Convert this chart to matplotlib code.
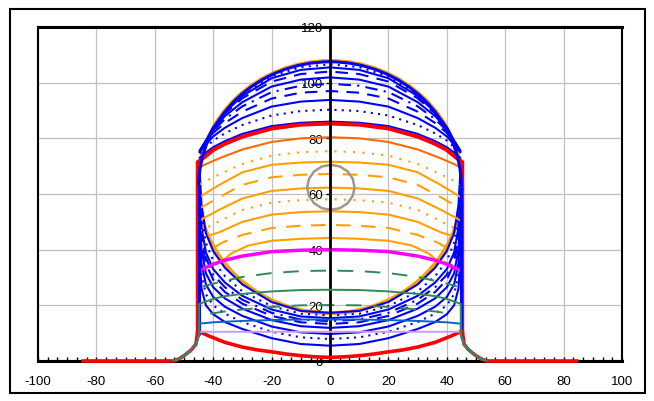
import matplotlib
matplotlib.use("Agg")
import matplotlib.pyplot as plt
import numpy as np
from matplotlib.patches import Arc, Circle, CirclePolygon, Rectangle
from matplotlib.ticker import MultipleLocator

plt.rcParams['font.family'] = ['Liberation Sans', 'DejaVu Sans']
plt.rcParams['axes.unicode_minus'] = False

# all profiles are symmetric about x = 0: only the right half is stored
# crown: semicircle r=45 centred on the axis, vertical walls at x=45
crown_y = 62.5
crown_r = 45.0
wall_x = 45.0
wall_bottom = 9.5

# blue contours in the crown (between red line and crown)
top_x = [0, 10, 20, 30, 36, 40, 43, 44.6]
top_levels = [
    [86.0, 85.6, 84.4, 81.6, 79.0, 76.8, 74.5, 73.0],
    [90.3, 89.8, 88.2, 84.8, 81.8, 79.2, 76.3, 74.5],
    [93.8, 93.2, 91.4, 87.3, 83.8, 80.7, 77.2, 75.0],
    [97.0, 96.4, 94.3, 89.6, 85.5, 82.0, 77.8, 75.3],
    [99.6, 98.9, 96.6, 91.5, 86.9, 82.8, 78.1, 75.5],
    [101.9, 101.1, 98.6, 93.0, 88.0, 83.4, 78.3, 75.6],
    [104.0, 103.1, 100.4, 94.4, 88.9, 83.8, 78.3, 75.6],
    [105.5, 104.6, 101.6, 95.2, 89.4, 84.0, 78.1, 75.3],
    [106.6, 105.6, 102.3, 95.7, 89.6, 83.8, 77.6, 74.8],
]
top_ls = ['-', (0, (1, 2.5)), '-', (0, (6, 4)), (0, (6, 3, 1, 3)), '-', (0, (6, 4)), '-', (0, (1, 2.5))]

# blue bowl contours below the circle
bowl_x = [0, 10, 20, 30, 36, 40, 42.5, 44, 44.6]
bowl_levels = [
    [5.5, 6.1, 8.2, 11.5, 14.0, 16.8, 20.0, 26.0, 36.0],
    [7.9, 8.5, 10.5, 14.0, 17.0, 20.0, 24.0, 31.0, 42.0],
    [9.7, 10.3, 12.4, 16.2, 19.5, 23.0, 27.5, 35.0, 46.0],
    [11.9, 12.5, 14.7, 18.8, 22.5, 26.5, 31.5, 40.0, 51.0],
    [13.3, 13.9, 16.2, 20.6, 24.8, 29.2, 35.0, 44.0, 55.0],
    [14.3, 14.9, 17.3, 22.0, 26.5, 31.0, 37.0, 46.0, 57.0],
    [15.4, 16.0, 18.5, 23.4, 28.2, 33.0, 39.0, 48.0, 59.0],
    [16.4, 17.0, 19.7, 25.0, 30.5, 36.0, 42.5, 52.0, 63.0],
    [17.3, 18.0, 21.2, 27.5, 33.5, 39.5, 46.0, 56.0, 67.0],
]
bowl_ls = ['-', (0, (1, 2.5)), '-', '-', (0, (6, 4)), (0, (6, 3, 1, 3)), '-', (0, (1, 2.5)), '-']

# orange contours inside the circle
orange_x = [
    [0, 10, 20, 30, 38, 43, 44.6],
    [0, 10, 20, 30, 38, 43, 44.6],
    [0, 10, 20, 30, 38, 43, 44.6],
    [0, 10, 20, 30, 38, 43, 44.6],
    [0, 10, 20, 30, 38, 43, 44.6],
    [0, 10, 20, 30, 38, 43, 44.6],
    [0, 10, 20, 30, 38, 41.5],
    [0, 10, 20, 30, 37, 39.5],
    [0, 10, 20, 28, 34, 36.5],
]
orange_levels = [
    [80.4, 80.0, 78.7, 76.0, 72.8, 70.5, 69.5],
    [75.4, 75.0, 73.8, 70.8, 67.0, 64.5, 63.5],
    [71.6, 71.3, 70.5, 67.8, 63.2, 60.0, 59.0],
    [67.2, 66.9, 66.0, 63.3, 58.8, 55.8, 55.0],
    [62.3, 62.0, 61.1, 58.4, 54.3, 51.5, 50.5],
    [58.1, 57.8, 56.9, 54.3, 50.2, 47.5, 46.8],
    [53.8, 53.5, 52.6, 50.0, 46.2, 45.1],
    [48.9, 48.6, 47.8, 45.3, 42.5, 40.9],
    [44.2, 43.9, 43.2, 41.5, 38.5, 36.2],
]
orange_colors = ['#ff6a00'] + ['#ffa000'] * 8
orange_ls = ['-', (0, (1, 3.5)), '-', (0, (7, 5)), '-', (0, (1, 3.5)), '-', (0, (7, 5)), '-']

# red thick line in the crown, continues down the walls
red_top_x = [0, 10, 20, 30, 36, 40, 43, 45.3, 45.3]
red_top_y = [85.3, 84.9, 83.5, 80.6, 78.0, 75.8, 73.2, 71.5, 10.8]

# invert (red), shoulder outside the walls, flat ground
red_bot_x = [0, 5, 10, 15, 20, 25, 30, 36, 41.5, 45.3, 45.9, 47.4, 49.6, 51.5, 53.5, 84.5]
red_bot_y = [1.3, 1.5, 1.9, 2.5, 3.3, 4.0, 5.0, 6.7, 9.0, 10.8, 6.1, 4.1, 2.2, 0.9, 0.0, 0.0]

magenta_x = [0, 10, 20, 30, 36, 40, 44.6]
magenta_y = [40.0, 39.8, 39.3, 37.7, 36.2, 34.8, 32.5]

green_dash_x = [[0, 10, 20, 30, 36, 40, 43.5], [0, 10, 20, 30, 36, 41]]
green_dash_y = [[32.5, 32.3, 31.6, 30.2, 28.8, 27.8, 26.8], [20.1, 20.0, 19.4, 18.5, 17.8, 17.0]]

shoulder_x = [44.8, 45.2, 45.9, 47.4, 49.6, 51.5, 53.5]
shoulder_y = [9.5, 8.0, 6.1, 4.1, 2.2, 0.9, 0.0]

green_x = [0, 10, 20, 30, 36, 40, 43, 44.8]
green_y = [25.6, 25.5, 25.0, 24.1, 23.3, 22.3, 21.2, 20.5]

steel_x = [0, 10, 20, 30, 36, 40, 43, 44.8]
steel_y = [14.9, 14.9, 14.7, 14.4, 14.1, 13.9, 13.6, 13.4]

lavender_x = [0, 44.8]
lavender_y = [10.5, 10.5]

gray_centre = (0.3, 62.4)
gray_r = 8.1


def mirror(xh, yh):
    xh = np.asarray(xh, dtype=float)
    yh = np.asarray(yh, dtype=float)
    return np.r_[-xh[::-1], xh[1:]], np.r_[yh[::-1], yh[1:]]


fig = plt.figure(figsize=(6.54, 4.02), dpi=100)
ax = fig.add_axes([38 / 654, 1 - 362 / 402, (622 - 38) / 654, (362 - 28) / 402])

# orange circle (drawn first, blue crown sits on it)
ax.add_patch(Circle((0, crown_y), crown_r + 0.3, fill=False, ec='#ffa000', lw=2.8, zorder=2))

# bowl contours
for lev, ls in zip(bowl_levels, bowl_ls):
    x, y = mirror(bowl_x, lev)
    ax.plot(x, y, color='#0000ff', lw=1.5, ls=ls, zorder=3)

# crown contours
for lev, ls in zip(top_levels, top_ls):
    x, y = mirror(top_x, lev)
    ax.plot(x, y, color='#0000ff', lw=1.5, ls=ls, zorder=3)

# orange contours
for xs, lev, c, ls in zip(orange_x, orange_levels, orange_colors, orange_ls):
    x, y = mirror(xs, lev)
    ax.plot(x, y, color=c, lw=1.5, ls=ls, zorder=3)

# red invert + shoulders + ground (sits on top of the x axis)
x, y = mirror(red_bot_x, red_bot_y)
ax.plot(x, y, color='#ff0000', lw=2.6, zorder=8, clip_on=False)

# lower coloured lines going down the walls and out onto the shoulders
for xs, ys, c in [(lavender_x, lavender_y, '#c89cff'),
                  (steel_x, steel_y, '#0a64c8'),
                  (green_x, green_y, '#2e8b57')]:
    x, y = mirror(xs + shoulder_x, ys + shoulder_y)
    ax.plot(x, y, color=c, lw=1.4, zorder=9)

for xs, ys in zip(green_dash_x, green_dash_y):
    x, y = mirror(xs, ys)
    ax.plot(x, y, color='#2e8b57', lw=1.4, ls=(0, (8, 6)), zorder=4)

x, y = mirror(magenta_x, magenta_y)
ax.plot(x, y, color='#ff00ff', lw=2.5, zorder=4)

# red thick line
x, y = mirror(red_top_x, red_top_y)
ax.plot(x, y, color='#ff0000', lw=2.8, zorder=4)

# blue outer boundary: walls + crown
ax.vlines([-wall_x, wall_x], wall_bottom, crown_y, color='#0000ff', lw=2.2, zorder=5)
ax.add_patch(Arc((0, crown_y), 2 * crown_r, 2 * crown_r, theta1=0, theta2=180,
                 color='#0000ff', lw=2.2, zorder=5))

# small gray circle
ax.add_patch(CirclePolygon(gray_centre, gray_r, resolution=16, fill=False,
                           ec='#a0968c', lw=1.8, zorder=6))

# axes
ax.set_xlim(-100, 100)
ax.set_ylim(0, 120)
ax.xaxis.set_major_locator(MultipleLocator(20))
ax.xaxis.set_minor_locator(MultipleLocator(10 / 3))
ax.yaxis.set_major_locator(MultipleLocator(20))
ax.grid(True, which='major', color='#c0c0c0', lw=0.9, zorder=0)
ax.set_axisbelow(True)

ax.spines['left'].set_position(('data', 0))
ax.spines['left'].set_linewidth(2.0)
ax.spines['left'].set_zorder(7)
ax.spines['right'].set_visible(False)
ax.spines['top'].set_linewidth(2.2)
ax.spines['bottom'].set_linewidth(2.2)
ax.add_patch(Rectangle((0, 0), 1, 1, transform=ax.transAxes, fill=False,
                       ec='black', lw=1.5, clip_on=False, zorder=7))

ax.tick_params(axis='x', which='both', direction='in', length=3, width=1,
               labelsize=9.5, pad=10)
ax.tick_params(axis='y', direction='out', length=3, width=1, labelsize=9.5, pad=2)
for lbl in ax.get_yticklabels():
    lbl.set_zorder(8)

fig.patches.append(Rectangle((10 / 654, 1 - 394 / 402), 635 / 654, 384 / 402,
                             transform=fig.transFigure, fill=False, ec='black', lw=1.5))

fig.savefig('out.png', dpi=100)
